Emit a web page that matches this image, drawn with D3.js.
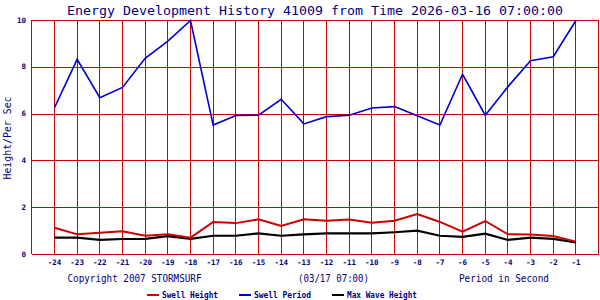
<!DOCTYPE html>
<html><head><meta charset="utf-8">
<script src="https://cdn.jsdelivr.net/npm/d3@7"></script>
<style>body{margin:0;background:#fff}svg{display:block}</style>
</head><body>
<svg id="c" width="600" height="300"></svg>
<script>
const hours = [-24,-23,-22,-21,-20,-19,-18,-17,-16,-15,-14,-13,-12,-11,-10,-9,-8,-7,-6,-5,-4,-3,-2,-1];
const swellHeight = [1.12,0.84,0.91,0.97,0.78,0.84,0.70,1.37,1.32,1.48,1.20,1.48,1.42,1.47,1.34,1.42,1.71,1.37,0.95,1.41,0.84,0.83,0.77,0.53];
const swellPeriod = [6.25,8.32,6.68,7.12,8.36,9.10,9.98,5.51,5.92,5.93,6.61,5.56,5.87,5.93,6.24,6.30,5.91,5.51,7.68,5.93,7.15,8.26,8.43,9.98];
const maxWave = [0.70,0.70,0.60,0.64,0.65,0.76,0.65,0.78,0.78,0.88,0.78,0.84,0.88,0.88,0.88,0.93,1.00,0.78,0.73,0.87,0.60,0.70,0.65,0.50];
const yTicks = [0,2,4,6,8,10];
const titleText = "Energy Development History 41009 from Time 2026-03-16 07:00:00";
const yTitle = "Height/Per Sec";
const footLeft = "Copyright 2007 STORMSURF";
const footMid = "(03/17 07:00)";
const footRight = "Period in Second";
const legendItems = ["Swell Height","Swell Period","Max Wave Height"];

const RED = "#cc0000", BLUE = "#0000cc", BLACK = "#000000", NAVY = "#000080";
const svg = d3.select("#c");
const L = 31.8, R = 598.6, T = 20, B = 254;
const x = d3.scaleLinear().domain([-25, 0]).range([L, R]);
const y = d3.scaleLinear().domain([0, 10]).range([B, T]);
const mono = "'DejaVu Sans Mono', 'Liberation Mono', monospace";

// grid
const g = svg.append("g").attr("shape-rendering","crispEdges");
g.selectAll(".v").data(d3.range(-25, 1)).join("line")
  .attr("x1", d => Math.floor(x(d))+0.5).attr("x2", d => Math.floor(x(d))+0.5)
  .attr("y1", T).attr("y2", B).attr("stroke", RED).attr("stroke-width", 1);
g.selectAll(".h").data(yTicks).join("line")
  .attr("x1", L).attr("x2", R)
  .attr("y1", d => Math.round(y(d))+0.5).attr("y2", d => Math.round(y(d))+0.5)
  .attr("stroke", RED).attr("stroke-width", 1);

// y labels
svg.selectAll(".yl").data(yTicks).join("text")
  .attr("x", 26).attr("y", d => y(d)+2.5).attr("text-anchor","end")
  .attr("font-family", mono).attr("font-size", 7.5).attr("font-weight","bold")
  .attr("fill", NAVY).text(d => d);

// x labels
svg.selectAll(".xl").data(hours).join("text")
  .attr("x", d => x(d)).attr("y", 264.5).attr("text-anchor","middle")
  .attr("font-family", mono).attr("font-size", 7.5).attr("font-weight","bold")
  .attr("fill", NAVY).text(d => d);

// lines
const line = arr => d3.line().x((d,i) => x(hours[i])).y(d => y(d))(arr);
svg.append("path").attr("d", line(maxWave)).attr("fill","none").attr("stroke", BLACK).attr("stroke-width", 2.2);
svg.append("path").attr("d", line(swellHeight)).attr("fill","none").attr("stroke", RED).attr("stroke-width", 2);
svg.append("path").attr("d", line(swellPeriod)).attr("fill","none").attr("stroke", BLUE).attr("stroke-width", 1.6);

// title
svg.append("text").attr("x", 315).attr("y", 15).attr("text-anchor","middle")
  .attr("font-family", mono).attr("font-size", 13).attr("fill", NAVY)
  .attr("textLength", 496).attr("lengthAdjust","spacingAndGlyphs").text(titleText);

// y title
svg.append("text").attr("transform","translate(11,138) rotate(-90)").attr("text-anchor","middle")
  .attr("font-family", mono).attr("font-size", 10.5).attr("fill", NAVY)
  .attr("textLength", 83).attr("lengthAdjust","spacingAndGlyphs").text(yTitle);

// footer
const foot = [[footLeft, 67.5, 134],[footMid, 298, 71],[footRight, 459, 90]];
svg.selectAll(".ft").data(foot).join("text")
  .attr("x", d => d[1]).attr("y", 282)
  .attr("font-family", mono).attr("font-size", 10.5).attr("fill", NAVY)
  .attr("textLength", d => d[2]).attr("lengthAdjust","spacingAndGlyphs").text(d => d[0]);

// legend
const legPos = [[147, 56],[239, 57],[332, 70]];
const legCol = [RED, BLUE, BLACK];
const lg = svg.selectAll(".lg").data(legendItems).join("g");
lg.append("line").attr("x1", (d,i) => legPos[i][0]).attr("x2", (d,i) => legPos[i][0]+12)
  .attr("y1", 295).attr("y2", 295).attr("stroke", (d,i) => legCol[i]).attr("stroke-width", 2)
  .attr("shape-rendering","crispEdges");
lg.append("text").attr("x", (d,i) => legPos[i][0]+15).attr("y", 298)
  .attr("font-family", mono).attr("font-size", 8).attr("font-weight","bold").attr("fill", NAVY)
  .attr("textLength", (d,i) => legPos[i][1]).attr("lengthAdjust","spacingAndGlyphs").text(d => d);
</script>
</body></html>
